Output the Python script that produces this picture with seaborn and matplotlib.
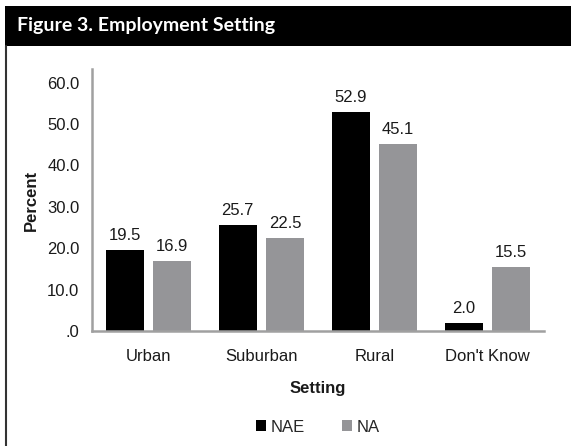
import matplotlib
matplotlib.use("Agg")
import matplotlib.pyplot as plt
import seaborn as sns
import pandas as pd
from matplotlib.patches import Rectangle
from matplotlib.lines import Line2D

categories = ["Urban", "Suburban", "Rural", "Don't Know"]
series = ["NAE", "NA"]
nae_values = [19.5, 25.7, 52.9, 2.0]
na_values = [16.9, 22.5, 45.1, 15.5]
y_ticks = [0, 10, 20, 30, 40, 50, 60]
y_tick_labels = [".0", "10.0", "20.0", "30.0", "40.0", "50.0", "60.0"]
title = "Figure 3. Employment Setting"
colors = {"NAE": "#000000", "NA": "#959598"}

sns.set_theme(style="white")
plt.rcParams['font.family'] = ['Liberation Sans', 'DejaVu Sans']

df = pd.DataFrame({
    "Setting": categories * 2,
    "Group": ["NAE"] * len(categories) + ["NA"] * len(categories),
    "Percent": nae_values + na_values,
})

W, H = 571, 446
fig = plt.figure(figsize=(W / 100, H / 100), dpi=100)
ax = fig.add_axes([92 / W, 1 - 331 / H, (544 - 92) / W, (331 - 69) / H])

sns.barplot(data=df, x="Setting", y="Percent", hue="Group", hue_order=series,
            order=categories, palette=colors, width=0.84, gap=0.2,
            saturation=1, linewidth=0, ax=ax)

for cont in ax.containers:
    ax.bar_label(cont, fmt="%.1f", padding=5, fontsize=12, color="#1a1a1a")

ax.set_xlim(-0.5, 3.5)
ax.set_ylim(0, 63.3)
ax.set_yticks(y_ticks)
ax.set_yticklabels(y_tick_labels)
ax.tick_params(axis="y", length=0, pad=9, labelsize=12, labelcolor="#1a1a1a")
ax.tick_params(axis="x", length=0, pad=13, labelsize=12, labelcolor="#1a1a1a")
for s in ["top", "right"]:
    ax.spines[s].set_visible(False)
for s in ["left", "bottom"]:
    ax.spines[s].set_color("#A0A0A0")
    ax.spines[s].set_linewidth(1.8)

ax.set_ylabel("Percent", fontsize=12, fontweight="bold", labelpad=6, color="#1a1a1a")
ax.set_xlabel("Setting", fontsize=12, fontweight="bold", labelpad=12, color="#1a1a1a")

handles, labels = ax.get_legend_handles_labels()
ax.legend(handles, labels, loc="center", bbox_to_anchor=(318 / W, 1 - 427 / H),
          bbox_transform=fig.transFigure, ncol=2, frameon=False,
          handlelength=0.6, handleheight=0.6, handletextpad=0.3,
          columnspacing=2.2, fontsize=12)

# header bar
fig.patches.append(Rectangle((5 / W, 1 - 46 / H), 1, 40 / H,
                             transform=fig.transFigure, facecolor="black",
                             edgecolor="none", zorder=0))
fig.text(17 / W, 1 - 26 / H, title, color="white", fontsize=14,
         fontweight="bold", family=["Lato", "DejaVu Sans"], va="center", ha="left")
fig.lines.append(Line2D([6 / W, 6 / W], [0, 1 - 46 / H], transform=fig.transFigure,
                        color="#333333", linewidth=1.5))

fig.savefig("out.png", dpi=100)
